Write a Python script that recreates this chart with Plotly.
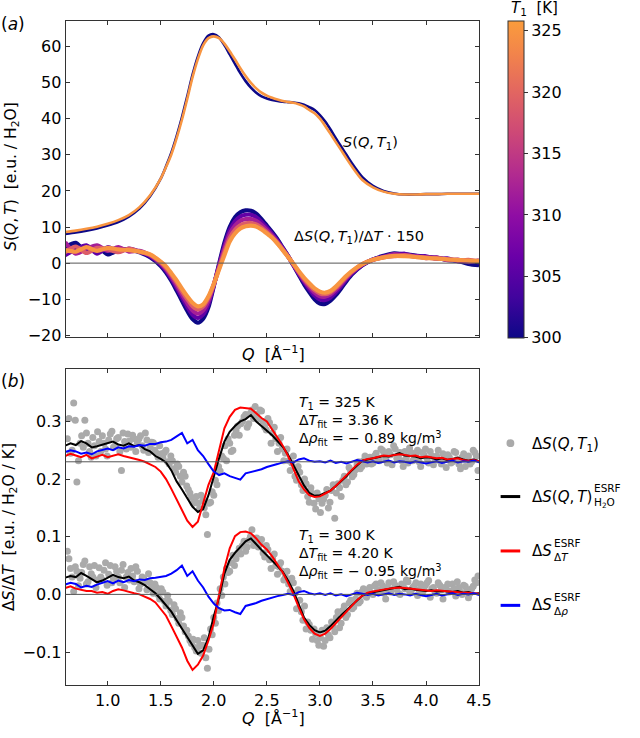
import plotly.graph_objects as go
from plotly.colors import sample_colorscale

W, H = 640, 738
def px(x): return x / W
def py(y): return 1 - y / H

FONT = "DejaVu Sans"
TS = "\u2009"  # thin space

# ---------------- Panel (a) data ----------------
Q_A = [0.6, 0.7, 0.8, 0.9, 1.0, 1.1, 1.2, 1.3, 1.4, 1.5,
       1.55, 1.6, 1.65, 1.7, 1.75, 1.8, 1.85, 1.9, 1.95, 2.0,
       2.05, 2.1, 2.15, 2.2, 2.25, 2.3, 2.35, 2.4, 2.45, 2.5,
       2.55, 2.6, 2.65, 2.7, 2.75, 2.8, 2.85, 2.9, 2.95, 3.0,
       3.05, 3.1, 3.15, 3.2, 3.25, 3.3,
       3.4, 3.5, 3.6, 3.7, 3.8, 3.9, 4.0, 4.1, 4.2, 4.3, 4.4, 4.5]

S_300 = [8.1, 8.5, 9.0, 9.6, 10.4, 11.4, 12.9, 15.1, 18.5, 23.4,
         26.8, 30.6, 35.2, 40.4, 46.2, 52.2, 57.2, 60.9, 63.0, 63.4,
         62.5, 60.4, 57.8, 55.2, 52.6, 50.4, 48.6, 47.2, 46.2, 45.6,
         45.2, 44.9, 44.7, 44.6, 44.5, 44.3, 43.9, 43.2, 42.4, 41.0,
         39.2, 37.0, 34.6, 32.3, 30.0, 27.7,
         23.8, 21.4, 20.0, 19.3, 19.0, 19.0, 19.1, 19.1, 19.2, 19.2, 19.2, 19.2]
S_325 = [8.6, 9.0, 9.5, 10.1, 10.9, 11.9, 13.3, 15.5, 18.8, 23.4,
         26.6, 30.1, 34.6, 39.7, 45.5, 51.5, 56.5, 60.3, 62.3, 62.8,
         62.3, 60.8, 58.7, 56.4, 54.0, 51.8, 49.9, 48.4, 47.2, 46.4,
         45.8, 45.3, 44.9, 44.6, 44.4, 44.0, 43.4, 42.4, 41.5, 40.0,
         38.0, 35.8, 33.5, 31.3, 29.0, 26.8,
         23.0, 21.0, 19.8, 19.2, 19.0, 19.0, 19.1, 19.1, 19.2, 19.2, 19.2, 19.2]

T_A = [300, 306, 312, 319, 325]
DS150_300 = [4.4, 5.6, 3.0, 4.6, 2.4, 3.6, 3.8, 3.0, 1.6, -0.8,
             -2.6, -4.9, -7.6, -10.4, -13.2, -15.5, -16.5, -15.4, -12.2, -6.4,
             -0.2, 5.6, 10.0, 12.7, 14.1, 14.6, 14.5, 13.7, 12.2, 10.4,
             8.6, 6.6, 4.3, 2.0, -0.6, -3.2, -5.8, -8.0, -10.0, -11.2,
             -11.3, -10.4, -8.9, -7.0, -5.0, -3.2,
             -0.6, 1.0, 2.0, 2.7, 2.4, 2.1, 1.7, 1.5, 0.9, 0.6, -0.2, -0.6]
DS150_306 = [2.2, 3.8, 4.9, 2.6, 4.4, 3.2, 4.0, 3.2, 1.9, -0.4,
             -2.1, -4.3, -6.8, -9.5, -12.1, -14.3, -15.2, -14.2, -11.3, -6.2,
             -0.6, 4.8, 9.1, 11.6, 12.9, 13.4, 13.4, 12.7, 11.4, 9.8,
             8.1, 6.2, 4.1, 1.9, -0.5, -2.9, -5.2, -7.2, -9.0, -10.1,
             -10.2, -9.5, -8.1, -6.4, -4.5, -2.9,
             -0.5, 1.0, 1.8, 2.2, 2.6, 1.8, 1.9, 1.2, 1.3, 0.5, 0.6, 0.2]
DS150_312 = [5.8, 2.6, 4.0, 4.9, 3.4, 4.4, 3.2, 3.4, 2.1, -0.1,
             -1.7, -3.8, -6.1, -8.7, -11.1, -13.1, -14.0, -13.1, -10.5, -6.0,
             -1.0, 4.0, 8.1, 10.4, 11.7, 12.2, 12.2, 11.7, 10.6, 9.2,
             7.6, 5.9, 3.9, 1.8, -0.4, -2.7, -4.8, -6.6, -8.2, -9.2,
             -9.3, -8.7, -7.4, -5.8, -4.1, -2.6,
             -0.4, 0.9, 1.7, 2.5, 2.0, 2.0, 1.4, 1.6, 0.8, 1.0, 0.3, 0.8]
DS150_319 = [3.0, 4.6, 2.8, 4.2, 3.8, 3.0, 4.0, 3.1, 2.3, 0.2,
             -1.3, -3.2, -5.4, -7.8, -10.0, -11.9, -12.8, -12.0, -9.6, -5.9,
             -1.4, 3.0, 7.0, 9.2, 10.5, 11.0, 11.1, 10.7, 9.8, 8.6,
             7.2, 5.6, 3.7, 1.8, -0.3, -2.4, -4.4, -6.1, -7.5, -8.4,
             -8.6, -8.1, -6.9, -5.4, -3.8, -2.4,
             -0.3, 0.9, 1.6, 1.9, 2.2, 1.7, 1.6, 1.2, 1.1, 0.7, 0.9, 0.4]
DS150_325 = [3.6, 3.2, 4.4, 3.4, 4.2, 3.8, 3.6, 3.2, 2.4, 0.4,
             -0.9, -2.8, -4.8, -7.1, -9.2, -11.0, -12.0, -11.4, -9.2, -5.8,
             -1.8, 2.2, 6.0, 8.2, 9.6, 10.2, 10.4, 10.1, 9.3, 8.2,
             7.0, 5.4, 3.6, 1.7, -0.2, -2.2, -4.0, -5.6, -7.0, -7.9,
             -8.2, -7.7, -6.5, -5.0, -3.5, -2.2,
             -0.3, 0.9, 1.6, 2.0, 1.9, 1.7, 1.4, 1.3, 1.0, 0.9, 0.7, 0.6]
DS150_ALL = [DS150_300, DS150_306, DS150_312, DS150_319, DS150_325]

# ---------------- Panel (b) data ----------------
Q_B = [0.60, 0.65, 0.70, 0.75, 0.80, 0.85, 0.90, 0.95, 1.00, 1.05,
       1.10, 1.15, 1.20, 1.25, 1.30, 1.35, 1.40, 1.45, 1.50, 1.55,
       1.60, 1.65, 1.70, 1.75, 1.80, 1.85, 1.90, 1.95, 2.00, 2.05,
       2.10, 2.15, 2.20, 2.25, 2.30, 2.35, 2.40, 2.45, 2.50, 2.55,
       2.60, 2.65, 2.70, 2.75, 2.80, 2.85, 2.90, 2.95, 3.00, 3.05,
       3.10, 3.15, 3.20, 3.25, 3.30, 3.35, 3.40, 3.45, 3.50, 3.55,
       3.60, 3.65, 3.70, 3.75, 3.80, 3.85, 3.90, 3.95, 4.00, 4.05,
       4.10, 4.15, 4.20, 4.25, 4.30, 4.35, 4.40, 4.45, 4.50]

BLACK_325 = [.258, .262, .259, .266, .262, .255, .257, .260, .262, .265,
             .260, .258, .262, .257, .259, .252, .248, .240, .235, .229,
             .215, .196, .182, .166, .152, .143, .148, .172, .205, .236,
             .265, .282, .292, .300, .304, .311, .300, .292, .284, .276,
             .266, .256, .242, .224, .205, .189, .176, .171, .172, .176,
             .180, .188, .196, .205, .215, .224, .232, .234, .236, .238,
             .240, .239, .242, .245, .241, .240, .239, .236, .238, .237,
             .234, .236, .233, .235, .237, .234, .232, .234, .231]
RED_325 = [.240, .244, .241, .238, .242, .236, .239, .242, .238, .241,
           .243, .240, .238, .236, .233, .230, .226, .221, .213, .200,
           .183, .165, .146, .128, .117, .126, .158, .190, .212, .250,
           .288, .308, .320, .324, .323, .322, .314, .306, .300, .285,
           .272, .258, .240, .218, .196, .182, .172, .169, .170, .175,
           .180, .188, .197, .206, .216, .225, .232, .235, .236, .238,
           .241, .240, .242, .243, .242, .240, .241, .238, .239, .237,
           .236, .237, .234, .235, .236, .233, .232, .233, .231]
BLUE_325 = [.247, .250, .248, .244, .246, .243, .248, .250, .253, .250,
            .255, .253, .257, .256, .259, .258, .261, .261, .264, .265,
            .268, .274, .280, .262, .268, .250, .240, .226, .213, .207,
            .210, .205, .202, .199, .210, .212, .214, .217, .221, .223,
            .226, .229, .231, .229, .234, .236, .232, .230, .231, .229,
            .232, .228, .230, .227, .230, .233, .231, .229, .231, .228,
            .230, .232, .229, .231, .230, .228, .231, .229, .227, .229,
            .231, .228, .230, .232, .229, .231, .230, .232, .229]

# T1 = 300 K
BLACK_300 = [.029, .032, .030, .037, .032, .026, .021, .024, .029, .034,
             .030, .028, .031, .024, .021, .016, .009, .002, -.008, -.020,
             -.030, -.045, -.060, -.073, -.090, -.103, -.097, -.075, -.038, -.006,
             .036, .060, .072, .083, .092, .097, .086, .077, .068, .059,
             .049, .039, .024, .006, -.018, -.040, -.053, -.062, -.066, -.063,
             -.055, -.045, -.036, -.028, -.019, -.010, -.002, .002, .004, .006,
             .007, .009, .011, .013, .009, .010, .008, .007, .006, .007,
             .005, .006, .005, .004, .006, .003, .004, .001, .002]
RED_300 = [.011, .014, .010, .008, .006, .006, .003, .004, .001, .006,
           .009, .007, .004, .002, .000, -.004, -.008, -.014, -.025, -.037,
           -.055, -.073, -.092, -.115, -.131, -.122, -.106, -.080, -.050, .000,
           .045, .080, .101, .108, .109, .106, .097, .086, .078, .066,
           .052, .038, .020, .001, -.022, -.043, -.058, -.068, -.072, -.068,
           -.060, -.050, -.040, -.030, -.020, -.010, -.002, .003, .005, .007,
           .009, .010, .011, .012, .011, .010, .009, .008, .008, .006,
           .007, .006, .005, .005, .004, .003, .003, .002, .001]
BLUE_300 = [.017, .020, .018, .012, .015, .013, .017, .020, .023, .019,
            .024, .021, .025, .023, .026, .025, .028, .029, .031, .032,
            .036, .042, .050, .032, .040, .024, .012, -.004, -.016, -.024,
            -.028, -.027, -.031, -.034, -.020, -.018, -.015, -.011, -.008, -.006,
            -.003, -.001, .001, -.001, .004, .006, .002, .000, .002, -.001,
            .002, -.002, .000, -.003, .000, .003, .001, -.001, .001, -.002,
            .000, .002, -.001, .001, .000, -.002, .001, -.001, -.003, -.001,
            .001, -.002, .000, .002, -.001, .001, .000, .002, -.001]

# measured points Delta S(Q, T1), sampled on two interleaved Q grids
Q_S = [0.62, 0.65, 0.68, 0.71, 0.74, 0.77, 0.80, 0.83, 0.86, 0.89,
       0.92, 0.95, 0.98, 1.01, 1.04, 1.07, 1.10, 1.13, 1.16, 1.19,
       1.22, 1.25, 1.28, 1.31, 1.34, 1.37, 1.40, 1.43, 1.46, 1.49,
       1.52, 1.55, 1.58, 1.61, 1.64, 1.67, 1.70, 1.73, 1.76, 1.79,
       1.82, 1.85, 1.88, 1.91, 1.94, 1.97, 2.00, 2.03, 2.06, 2.09,
       2.12, 2.15, 2.18, 2.21, 2.24, 2.27, 2.30, 2.33, 2.36, 2.39,
       2.42, 2.45, 2.48, 2.51, 2.54, 2.57, 2.60, 2.63, 2.66, 2.69,
       2.72, 2.75, 2.78, 2.81, 2.84, 2.87, 2.90, 2.93, 2.96, 2.99,
       3.02, 3.05, 3.08, 3.11, 3.14, 3.17, 3.20, 3.23, 3.26, 3.29,
       3.32, 3.35, 3.38, 3.41, 3.44, 3.47, 3.50, 3.53, 3.56, 3.59,
       3.62, 3.65, 3.68, 3.71, 3.74, 3.77, 3.80, 3.83, 3.86, 3.89,
       3.92, 3.95, 3.98, 4.01, 4.04, 4.07, 4.10, 4.13, 4.16, 4.19,
       4.22, 4.25, 4.28, 4.31, 4.34, 4.37, 4.40, 4.43, 4.46, 4.49]
DOTS_325 = [.270, .245, .332, .195, .262, .255, .280, .248, .272, .240,
            .265, .275, .252, .268, .283, .258, .272, .215, .265, .278,
            .255, .270, .262, .275, .250, .268, .256, .263, .245, .258,
            .238, .250, .226, .232, .212, .222, .195, .205, .182, .168,
            .165, .158, .172, .150, .104, .160, .172, .190, .214, .236,
            .232, .262, .250, .284, .276, .300, .312, .296, .320, .326,
            .304, .318, .290, .305, .262, .290, .248, .272, .232, .252,
            .215, .240, .198, .212, .180, .192, .160, .175, .148, .166,
            .158, .172, .150, .180, .132, .192, .170, .205, .195, .214,
            .208, .225, .218, .232, .226, .238, .228, .245, .232, .250,
            .236, .248, .225, .252, .240, .232, .248, .228, .246, .235,
            .250, .222, .242, .236, .248, .225, .240, .232, .244, .220,
            .238, .230, .246, .226, .238, .222, .240, .230, .246, .215]
DOTS_300 = [.075, .045, .005, .040, .028, .052, .018, .048, .030, .012,
            .046, .025, .055, .035, .020, .048, .030, .042, .012, .038,
            .045, .022, .040, .018, .028, .008, .020, .002, .012, -.008,
            .004, -.020, -.012, -.035, -.025, -.050, -.040, -.065, -.072, -.085,
            -.092, -.080, -.102, -.075, -.128, -.060, -.040, -.015, .010, .030,
            .045, .040, .068, .062, .080, .085, .075, .094, .112, .090,
            .082, .095, .065, .078, .045, .070, .035, .055, .025, .040,
            .005, .020, -.025, -.010, -.045, -.060, -.052, -.078, -.068, -.088,
            -.062, -.080, -.070, -.048, -.065, -.030, -.050, -.020, -.035, -.010,
            -.022, .002, -.012, .010, -.005, .012, .000, .018, .005, .015,
            -.008, .020, .008, .016, .002, .018, .010, .022, .005, .015,
            -.002, .018, .008, .020, -.005, .012, .002, .016, -.008, .010,
            .004, .018, -.003, .012, .000, .014, -.006, .010, .025, .032]

Q_S2 = [0.635, 0.665, 0.695, 0.725, 0.755, 0.785, 0.815, 0.845, 0.875, 0.905,
        0.935, 0.965, 0.995, 1.025, 1.055, 1.085, 1.115, 1.145, 1.175, 1.205,
        1.235, 1.265, 1.295, 1.325, 1.355, 1.385, 1.415, 1.445, 1.475, 1.505,
        1.535, 1.565, 1.595, 1.625, 1.655, 1.685, 1.715, 1.745, 1.775, 1.805,
        1.835, 1.865, 1.895, 1.925, 1.955, 1.985, 2.015, 2.045, 2.075, 2.105,
        2.135, 2.165, 2.195, 2.225, 2.255, 2.285, 2.315, 2.345, 2.375, 2.405,
        2.435, 2.465, 2.495, 2.525, 2.555, 2.585, 2.615, 2.645, 2.675, 2.705,
        2.735, 2.765, 2.795, 2.825, 2.855, 2.885, 2.915, 2.945, 2.975, 3.005,
        3.035, 3.065, 3.095, 3.125, 3.155, 3.185, 3.215, 3.245, 3.275, 3.305,
        3.335, 3.365, 3.395, 3.425, 3.455, 3.485, 3.515, 3.545, 3.575, 3.605,
        3.635, 3.665, 3.695, 3.725, 3.755, 3.785, 3.815, 3.845, 3.875, 3.905,
        3.935, 3.965, 3.995, 4.025, 4.055, 4.085, 4.115, 4.145, 4.175, 4.205,
        4.235, 4.265, 4.295, 4.325, 4.355, 4.385, 4.415, 4.445, 4.475]
DOTS2_325 = [.305, .250, .302, .232, .275, .302, .262, .238, .258, .282,
             .248, .262, .240, .278, .255, .270, .248, .280, .252, .266,
             .276, .248, .270, .258, .280, .246, .264, .250, .238, .244,
             .246, .230, .240, .218, .226, .205, .212, .188, .176, .158,
             .170, .148, .162, .138, .158, .178, .198, .222, .240, .258,
             .270, .248, .276, .292, .296, .308, .290, .314, .305, .312,
             .320, .300, .285, .298, .280, .270, .262, .252, .245, .232,
             .228, .205, .222, .190, .200, .170, .185, .158, .176, .142,
             .165, .182, .160, .190, .176, .185, .198, .190, .220, .204,
             .216, .230, .222, .240, .235, .226, .240, .236, .252, .244,
             .228, .242, .258, .236, .246, .222, .238, .254, .232, .244,
             .230, .246, .252, .228, .240, .234, .250, .226, .236, .242,
             .228, .248, .234, .218, .244, .236, .226, .250, .240]
DOTS2_300 = [.062, .030, .048, .015, .038, .058, .022, .036, .050, .025,
             .030, .042, .016, .050, .028, .040, .020, .052, .030, .025,
             .032, .048, .010, .030, .022, .036, .012, .018, .000, .010,
             -.012, -.002, -.028, -.018, -.042, -.032, -.055, -.062, -.080, -.078,
             -.098, -.090, -.088, -.110, -.095, -.070, -.050, -.028, -.002, .018,
             .038, .055, .050, .072, .070, .092, .082, .100, .085, .098,
             .088, .072, .085, .060, .062, .050, .048, .040, .030, .018,
             .028, .002, .008, -.030, -.020, -.048, -.062, -.060, -.080, -.075,
             -.090, -.058, -.075, -.055, -.040, -.058, -.028, -.040, -.015, -.025,
             -.008, -.015, .004, -.002, .008, .002, .015, .008, .020, .002,
             .012, .004, .022, .010, .000, .014, .025, .006, .012, .020,
             .008, .002, .016, .024, .010, .004, .020, .008, .012, .018,
             .006, .010, .022, .004, .016, .008, .002, .014, .020]

BASE_A = [0.0]
BASE_B = [0.0, 0.23]

COLORBAR_TICKS = [300, 305, 310, 315, 320, 325]
XTICKS = [1.0, 1.5, 2.0, 2.5, 3.0, 3.5, 4.0, 4.5]
YTICKS_A = [-20, -10, 0, 10, 20, 30, 40, 50, 60]
YTICKS_B = [-0.1, 0.0, 0.1, 0.2, 0.3]

# truncated plasma colormap
CSCALE = [[0.0, '#0d0887'], [0.128, '#41049d'], [0.256, '#6a00a8'],
          [0.385, '#8f0da4'], [0.513, '#b12a90'], [0.641, '#cc4778'],
          [0.769, '#e16462'], [0.897, '#f2844b'], [1.0, '#fa9c3c']]
CMIN, CMAX = 300, 325.8

TICK_SIZE = 16

def tcolor(t):
    return sample_colorscale(CSCALE, [(t - CMIN) / (CMAX - CMIN)])[0]

fig = go.Figure()

# panel a: S(Q,T1)
for t, s in [(300, S_300), (325, S_325)]:
    fig.add_trace(go.Scatter(x=Q_A, y=s, mode='lines', xaxis='x', yaxis='y',
                             line=dict(color=tcolor(t), width=2.6, shape='spline', smoothing=0.7),
                             showlegend=False, hoverinfo='skip'))
# panel a: Delta S * 150
for t, d in zip(T_A, DS150_ALL):
    fig.add_trace(go.Scatter(x=Q_A, y=d, mode='lines', xaxis='x', yaxis='y',
                             line=dict(color=tcolor(t), width=4.2, shape='spline', smoothing=0.7),
                             showlegend=False, hoverinfo='skip'))
# colorbar carrier
fig.add_trace(go.Scatter(x=[None], y=[None], mode='markers', xaxis='x', yaxis='y',
                         marker=dict(color=T_A, colorscale=CSCALE, cmin=CMIN, cmax=CMAX, showscale=True,
                                     colorbar=dict(x=px(519), xanchor='left', y=py(21), yanchor='top',
                                                   len=320 / H, lenmode='fraction', thickness=16,
                                                   thicknessmode='pixels', xpad=0, ypad=0,
                                                   outlinewidth=1, outlinecolor='#333',
                                                   ticks='outside', ticklen=4, tickcolor='#333',
                                                   tickvals=COLORBAR_TICKS,
                                                   tickfont=dict(family=FONT, size=TICK_SIZE, color='black'))),
                         showlegend=False, hoverinfo='skip'))

# panel b
for qs, dots in ((Q_S, DOTS_325), (Q_S2, DOTS2_325), (Q_S, DOTS_300), (Q_S2, DOTS2_300)):
    fig.add_trace(go.Scatter(x=qs, y=dots, mode='markers', xaxis='x2', yaxis='y2',
                             marker=dict(color='#aaaaaa', size=7, line=dict(width=0)),
                             showlegend=False, hoverinfo='skip'))
for blk, red, blu in ((BLACK_325, RED_325, BLUE_325), (BLACK_300, RED_300, BLUE_300)):
    for ys, col in ((blk, '#000000'), (red, '#ff0000'), (blu, '#0000ff')):
        fig.add_trace(go.Scatter(x=Q_B, y=ys, mode='lines', xaxis='x2', yaxis='y2',
                                 line=dict(color=col, width=2),
                                 showlegend=False, hoverinfo='skip'))

shapes = []
for b in BASE_A:
    shapes.append(dict(type='line', xref='x domain', x0=0, x1=1, yref='y', y0=b, y1=b,
                       line=dict(color='#555', width=1), layer='above'))
for b in BASE_B:
    shapes.append(dict(type='line', xref='x2 domain', x0=0, x1=1, yref='y2', y0=b, y1=b,
                       line=dict(color='#555', width=1), layer='above'))
# manual legend glyphs
shapes.append(dict(type='circle', xref='paper', yref='paper', x0=px(517), x1=px(525),
                   y0=py(452), y1=py(444), fillcolor='#aaaaaa', line=dict(width=0)))
for yy, col in ((502, '#000000'), (557, '#ff0000'), (612, '#0000ff')):
    shapes.append(dict(type='line', xref='paper', yref='paper', x0=px(511), x1=px(531),
                       y0=py(yy), y1=py(yy), line=dict(color=col, width=3)))

def ann(text, x, y, size=14.5, xanchor='left', yanchor='middle', angle=0, align='left'):
    return dict(text=text, x=px(x), y=py(y), xref='paper', yref='paper', showarrow=False,
                xanchor=xanchor, yanchor=yanchor, textangle=angle, align=align, borderpad=0,
                font=dict(family=FONT, size=size, color='black'))

annotations = [
    ann('(<i>a</i>)', 0, 24, size=17),
    ann('(<i>b</i>)', 0, 385, size=17),
    ann('<i>T</i><sub>1</sub>  [K]', 546, 9, size=15, xanchor='center'),
    ann('<i>S</i>(<i>Q</i>,' + TS + '<i>T</i><sub>1</sub>)', 349, 145),
    ann('Δ<i>S</i>(<i>Q</i>,' + TS + '<i>T</i><sub>1</sub>)/Δ<i>T</i> · 150', 299, 240),
    ann('<i>S</i>(<i>Q</i>,' + TS + '<i>T</i>)  [e.u. / H<sub>2</sub>O]', 12, 178, size=15.5,
        xanchor='center', angle=-90),
    ann('<i>Q</i>  [Å<sup>−1</sup>]', 279, 357, size=16, xanchor='center'),
    ann('Δ<i>S</i>/Δ<i>T</i>  [e.u. / H<sub>2</sub>O / K]', 10, 533, size=15.5,
        xanchor='center', angle=-90),
    ann('<i>Q</i>  [Å<sup>−1</sup>]', 279, 725, size=16, xanchor='center'),
    ann('<i>T</i><sub>1</sub> = 325 K<br>Δ<i>T</i><sub>fit</sub> = 3.36 K<br>Δ<i>ρ</i><sub>fit</sub> = − 0.89 kg/m<sup>3</sup>',
        304, 397, size=14, yanchor='top'),
    ann('<i>T</i><sub>1</sub> = 300 K<br>Δ<i>T</i><sub>fit</sub> = 4.20 K<br>Δ<i>ρ</i><sub>fit</sub> = − 0.95 kg/m<sup>3</sup>',
        304, 532, size=14, yanchor='top'),
    # legend texts
    ann('Δ<i>S</i>(<i>Q</i>,' + TS + '<i>T</i><sub>1</sub>)', 542, 449, size=15),
    ann('Δ<i>S</i>(<i>Q</i>,' + TS + '<i>T</i>)', 542, 502, size=15),
    ann('ESRF<br>H<sub>2</sub>O', 605, 501, size=10.5),
    ann('Δ<i>S</i>', 542, 557, size=15),
    ann('ESRF<br>Δ<i>T</i>', 564, 556, size=10.5),
    ann('Δ<i>S</i>', 542, 612, size=15),
    ann('ESRF<br>Δ<i>ρ</i>', 564, 611, size=10.5),
]

axis_common = dict(showline=True, linecolor='#333', linewidth=1, mirror='allticks', ticks='inside',
                   ticklen=4, tickwidth=1, tickcolor='#333', showgrid=False, zeroline=False,
                   tickfont=dict(family=FONT, size=TICK_SIZE, color='black'))

fig.update_layout(
    width=W, height=H, margin=dict(l=0, r=0, t=0, b=0),
    paper_bgcolor='white', plot_bgcolor='white', showlegend=False,
    font=dict(family=FONT, size=14.5, color='black'),
    xaxis=dict(domain=[px(67), px(489)], range=[0.604, 4.5], anchor='y', tickvals=XTICKS,
               showticklabels=False, **axis_common),
    yaxis=dict(domain=[py(341), py(21)], range=[-20.55, 67.12], anchor='x', tickvals=YTICKS_A,
               **axis_common),
    xaxis2=dict(domain=[px(67), px(489)], range=[0.604, 4.5], anchor='y2', tickvals=XTICKS,
                tickformat='.1f', **axis_common),
    yaxis2=dict(domain=[py(693), py(373)], range=[-0.158, 0.391], anchor='x2', tickvals=YTICKS_B,
                tickformat='.1f', **axis_common),
    shapes=shapes, annotations=annotations,
)

fig.write_html("out.html")
